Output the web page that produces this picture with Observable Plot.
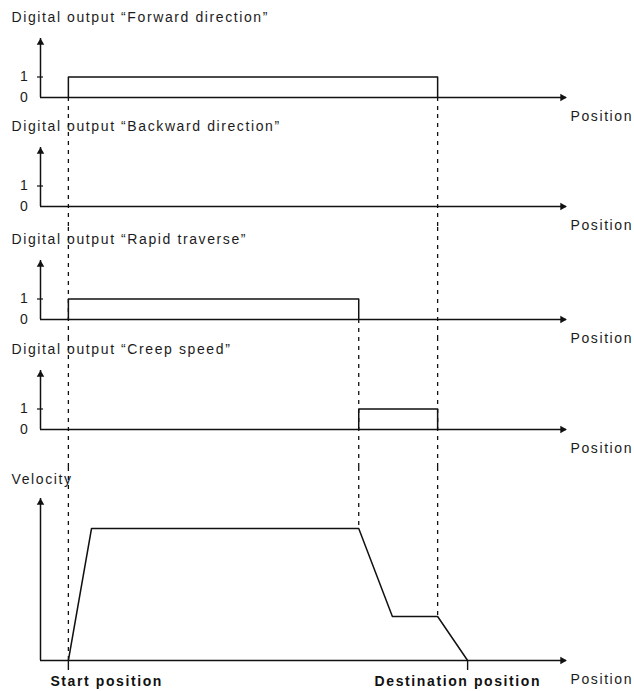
<!DOCTYPE html>
<html>
<head>
<meta charset="utf-8">
<script src="https://cdn.jsdelivr.net/npm/d3@7"></script>
<script src="https://cdn.jsdelivr.net/npm/@observablehq/plot@0.6"></script>
<style>
  body { margin: 0; background: #fff; }
  #chart { width: 634px; height: 691px; padding-top: 5px; box-sizing: border-box; overflow: hidden; }
  #chart svg { display: block; }
  #chart text { letter-spacing: 1.6px; }
</style>
</head>
<body>
<div id="chart"></div>
<script>
// ---- data ----
const panelTitles = [
  "Digital output \u201cForward direction\u201d",
  "Digital output \u201cBackward direction\u201d",
  "Digital output \u201cRapid traverse\u201d",
  "Digital output \u201cCreep speed\u201d",
  "Velocity"
];
const axisLabel = "Position";
const digitalTicks = [0, 1];

// key positions along the travel (0 = axis origin, 100 = arrow tip)
const startPos = 5.3;
const rampEndPos = 9.7;
const rapidEndPos = 60.5;
const decelEndPos = 66.9;
const creepEndPos = 75.5;
const destPos = 81.2;

// digital outputs (step signals)
const forwardX = [startPos, startPos, creepEndPos, creepEndPos];
const forwardY = [0, 1, 1, 0];
const backwardX = [];
const backwardY = [];
const rapidX = [startPos, startPos, rapidEndPos, rapidEndPos];
const rapidY = [0, 1, 1, 0];
const creepX = [rapidEndPos, rapidEndPos, creepEndPos, creepEndPos];
const creepY = [0, 1, 1, 0];

// velocity profile (rapid = 3, creep = 1, arbitrary units)
const velocityX = [startPos, rampEndPos, rapidEndPos, decelEndPos, creepEndPos, destPos];
const velocityY = [0, 3, 3, 1, 1, 0];

const bottomLabels = ["Start position", "Destination position"];
const bottomLabelX = [startPos, destPos];

// ---- layout ----
const INK = "#111";
const TXT = "#1c1c1c";
const FONT = "'Liberation Sans', Arial, sans-serif";
const FS = 14;
const W = 634, ML = 40, MR = 68;
const dash = "4,5";

function makePanel(cfg) {
  const {title, sx, sy, height, base, ppu, axisTopPx, guides, digital, extra = []} = cfg;
  const yMax = base / ppu, yMin = -(height - base) / ppu;
  const axisTop = axisTopPx / ppu;
  const signal = sx.map((x, i) => ({x, y: sy[i]}));
  const guideRows = guides.map(g => ({
    x: g.x,
    y1: g.from === "top" ? yMax : g.from === "bottom" ? yMin : g.from,
    y2: g.to === "top" ? yMax : g.to === "bottom" ? yMin : g.to
  }));
  const marks = [
    Plot.ruleX(guideRows, {x: "x", y1: "y1", y2: "y2", stroke: INK, strokeWidth: 1.3, strokeDasharray: dash}),
    Plot.ruleY([0], {stroke: INK, strokeWidth: 1.5}),
    Plot.ruleX([0], {y1: 0, y2: axisTop, stroke: INK, strokeWidth: 1.5}),
    Plot.dot([0], {x: 100, y: 0, symbol: "triangle", rotate: 90, r: 2.8, fill: INK, stroke: null, dx: -4}),
    Plot.dot([0], {x: 0, y: axisTop, symbol: "triangle", r: 2.8, fill: INK, stroke: null, dy: 4}),
    Plot.line(signal, {x: "x", y: "y", stroke: INK, strokeWidth: 1.5}),
    Plot.text([title], {frameAnchor: "top-left", dx: -29, dy: 12, textAnchor: "start", lineAnchor: "middle", fontSize: FS, fill: TXT}),
    Plot.text([axisLabel], {x: 100, y: 0, dx: 4, dy: 19, textAnchor: "start", lineAnchor: "middle", fontSize: FS, fill: TXT})
  ];
  if (digital) {
    marks.push(Plot.axisY([1], {tickSize: 6, dx: 3, tickFormat: () => "", label: null, stroke: INK, strokeWidth: 1.2}));
    marks.push(Plot.axisY(digitalTicks, {tickSize: 0, tickPadding: 11, label: null, fontSize: FS, fill: TXT}));
  }
  marks.push(...extra.map(f => f(ppu)));
  return Plot.plot({
    width: W, height,
    marginLeft: ML, marginRight: MR, marginTop: 0, marginBottom: 0,
    x: {domain: [0, 100], axis: null},
    y: {domain: [yMin, yMax], axis: digital ? undefined : null},
    style: {fontFamily: FONT, fontSize: FS + "px", background: "transparent", overflow: "visible", color: TXT},
    marks
  });
}

const ppuDigital = 20.5;
const boldLabel = (i, dx) => () => Plot.text([bottomLabels[i]], {
  x: bottomLabelX[i], y: 0, dx, dy: 21, textAnchor: "start", lineAnchor: "middle",
  fontSize: FS, fontWeight: "bold", fill: "#111"
});
const panels = [
  makePanel({title: panelTitles[0], sx: forwardX, sy: forwardY, height: 109, base: 92, ppu: ppuDigital, axisTopPx: 59, digital: true,
    guides: [{x: startPos, from: 0, to: "bottom"}, {x: creepEndPos, from: 0, to: "bottom"}]}),
  makePanel({title: panelTitles[1], sx: backwardX, sy: backwardY, height: 113, base: 92, ppu: ppuDigital, axisTopPx: 59, digital: true,
    guides: [{x: startPos, from: "top", to: "bottom"}, {x: creepEndPos, from: "top", to: "bottom"}]}),
  makePanel({title: panelTitles[2], sx: rapidX, sy: rapidY, height: 110, base: 92, ppu: ppuDigital, axisTopPx: 59, digital: true,
    guides: [{x: startPos, from: "top", to: "bottom"}, {x: creepEndPos, from: "top", to: "bottom"}, {x: rapidEndPos, from: 0, to: "bottom"}]}),
  makePanel({title: panelTitles[3], sx: creepX, sy: creepY, height: 130, base: 92, ppu: ppuDigital, axisTopPx: 59, digital: true,
    guides: [{x: startPos, from: "top", to: "bottom"}, {x: creepEndPos, from: "top", to: "bottom"}, {x: rapidEndPos, from: "top", to: "bottom"}]}),
  makePanel({title: panelTitles[4], sx: velocityX, sy: velocityY, height: 224, base: 193, ppu: 44, axisTopPx: 162, digital: false,
    guides: [startPos, rapidEndPos, creepEndPos].map(x => ({x, from: "top", to: velocityY[velocityX.indexOf(x)]})),
    extra: [
      ppu => Plot.ruleX(bottomLabelX, {y1: 0, y2: -10 / ppu, stroke: INK, strokeWidth: 1.4}),
      boldLabel(0, -18),
      boldLabel(1, -93)
    ]})
];
const chart = document.getElementById("chart");
panels.forEach(p => chart.appendChild(p));
</script>
</body>
</html>
